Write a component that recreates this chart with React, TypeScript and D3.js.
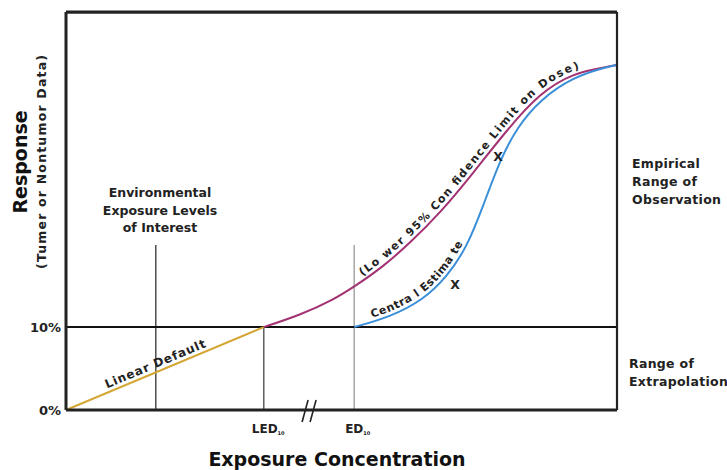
import React from 'react';
import * as d3 from 'd3';

// ---- data (dose in arbitrary units 0..100, response in %) ----
const responseTicks = [0, 10];
const tickLabels = ['0%', '10%'];
const linearDefault: [number, number][] = [[0, 0], [35.9, 10]];
const lowerBoundCurve: [number, number][] = [
  [35.9, 10], [42.5, 11.46], [48.5, 13.27], [52.5, 14.95], [57.5, 17.25], [62.4, 20.14],
  [67.9, 23.76], [73.9, 28.58], [80.0, 33.77], [86.0, 38.23], [92.0, 40.64], [98.2, 41.37], [100, 41.61],
];
const centralCurve: [number, number][] = [
  [52.3, 10], [58.8, 11.22], [64.8, 13.27], [69.1, 16.04], [72.8, 19.66], [75.7, 24.6],
  [78.8, 30.2], [81.9, 34.13], [86.0, 37.39], [92.0, 40.16], [98.2, 41.37], [100, 41.61],
];
const markers: [number, number][] = [[78.4, 30.5], [70.6, 15.1]];
const refLineX = [16.3, 35.9, 52.3];
const refLineTop = [19.9, 10, 19.9];
const breakAt = 44.3;

const FONT = '"DejaVu Sans", Verdana, sans-serif';

export default function App() {
  const x = d3.scaleLinear().domain([0, 100]).range([66, 617]);
  const y = d3.scaleLinear().domain([0, 48]).range([410, 12]);
  const line = d3.line<[number, number]>().x(d => x(d[0])).y(d => y(d[1]));
  const smooth = d3.line<[number, number]>().x(d => x(d[0])).y(d => y(d[1])).curve(d3.curveBasis);
  const refColors = ['#333', '#444', '#999'];
  const bx = x(breakAt);
  const by = y(0);

  return (
    <svg width={727} height={470} style={{ position: 'absolute', left: 0, top: 0, background: '#fff' }} fontFamily={FONT}>
      <defs>
        <path id="lin" d={line(linearDefault)!} />
        <path id="lcl" d={smooth(lowerBoundCurve)!} />
        <path id="cen" d={smooth(centralCurve)!} />
      </defs>
      {/* reference vertical lines */}
      {refLineX.map((v, i) => (
        <line key={i} x1={x(v)} x2={x(v)} y1={y(refLineTop[i])} y2={y(0)} stroke={refColors[i]} strokeWidth={1.3} />
      ))}
      {/* 10% line */}
      <line x1={x(0)} x2={x(100)} y1={y(10)} y2={y(10)} stroke="#111" strokeWidth={2} />
      {/* curves */}
      <path d={line(linearDefault)!} fill="none" stroke="#d4a634" strokeWidth={2} />
      <path d={smooth(lowerBoundCurve)!} fill="none" stroke="#a23272" strokeWidth={2} />
      <path d={smooth(centralCurve)!} fill="none" stroke="#3a8fd8" strokeWidth={2} />
      {/* frame */}
      <line x1={x(0)} x2={x(100)} y1={y(48) + 1} y2={y(48) + 1} stroke="#999" strokeWidth={2} />
      <line x1={x(0)} x2={x(100)} y1={y(48)} y2={y(48)} stroke="#222" strokeWidth={3} />
      <line x1={x(0)} x2={x(0)} y1={y(48)} y2={y(0)} stroke="#222" strokeWidth={3} />
      <line x1={x(100)} x2={x(100)} y1={y(48)} y2={y(0)} stroke="#222" strokeWidth={2.2} />
      <line x1={x(0)} x2={x(100)} y1={y(0)} y2={y(0)} stroke="#222" strokeWidth={3} />
      {/* axis break */}
      <line x1={bx - 8} x2={bx - 2} y1={by + 12} y2={by - 10} stroke="#222" strokeWidth={1.6} />
      <line x1={bx} x2={bx + 6} y1={by + 12} y2={by - 10} stroke="#222" strokeWidth={1.6} />
      {/* tick labels */}
      {responseTicks.map((t, i) => (
        <text key={t} x={61} y={y(t)} dy="0.35em" textAnchor="end" fontSize={13} fontWeight="bold" fill="#222">{tickLabels[i]}</text>
      ))}
      {/* curve labels */}
      <text fontSize={12} fontWeight="bold" fill="#222" dy={-4}>
        <textPath href="#lin" startOffset={46} textLength={108} lengthAdjust="spacing">Linear Default</textPath>
      </text>
      <text fontSize={11} fontWeight="bold" fill="#222" dy={-4}>
        <textPath href="#lcl" startOffset={112} textLength={302} lengthAdjust="spacing">(Lo wer 95% Con fidence Limit on Dose)</textPath>
      </text>
      <text fontSize={11} fontWeight="bold" fill="#222" dy={-4}>
        <textPath href="#cen" startOffset={20} textLength={124} lengthAdjust="spacing">Centra l Estima te</textPath>
      </text>
      {markers.map((m, i) => (
        <text key={i} x={x(m[0])} y={y(m[1])} dy="0.35em" textAnchor="middle" fontSize={12.5} fontWeight="bold" fill="#222">X</text>
      ))}
      {/* annotations */}
      <text x={160} textAnchor="middle" fontSize={12.5} fontWeight="bold" fill="#222">
        <tspan x={160} y={197}>Environmental</tspan>
        <tspan x={160} y={215}>Exposure Levels</tspan>
        <tspan x={160} y={232}>of Interest</tspan>
      </text>
      <text fontSize={12.5} fontWeight="bold" fill="#222" letterSpacing={0.3}>
        <tspan x={632} y={168}>Empirical</tspan>
        <tspan x={632} y={186}>Range of</tspan>
        <tspan x={632} y={204}>Observation</tspan>
      </text>
      <text fontSize={12.5} fontWeight="bold" fill="#222" letterSpacing={0.3}>
        <tspan x={629} y={368}>Range of</tspan>
        <tspan x={629} y={386}>Extrapolation</tspan>
      </text>
      {/* x markers */}
      <text x={x(refLineX[1]) - 12} y={433} fontSize={12} fontWeight="bold" fill="#222">LED<tspan fontSize={5} dy={2}>10</tspan></text>
      <text x={x(refLineX[2]) - 9} y={433} fontSize={12} fontWeight="bold" fill="#222">ED<tspan fontSize={5} dy={2}>10</tspan></text>
      {/* axis titles */}
      <text x={337} y={466} textAnchor="middle" fontSize={19} fontWeight="bold" fill="#111">Exposure Concentration</text>
      <text transform="translate(27,162) rotate(-90)" textAnchor="middle" fontSize={19} fontWeight="bold" fill="#111">Response</text>
      <text transform="translate(46,162) rotate(-90)" textAnchor="middle" fontSize={12.5} fontWeight="bold" fill="#222" textLength={214} lengthAdjust="spacing">(Tumer or Nontumor Data)</text>
    </svg>
  );
}
